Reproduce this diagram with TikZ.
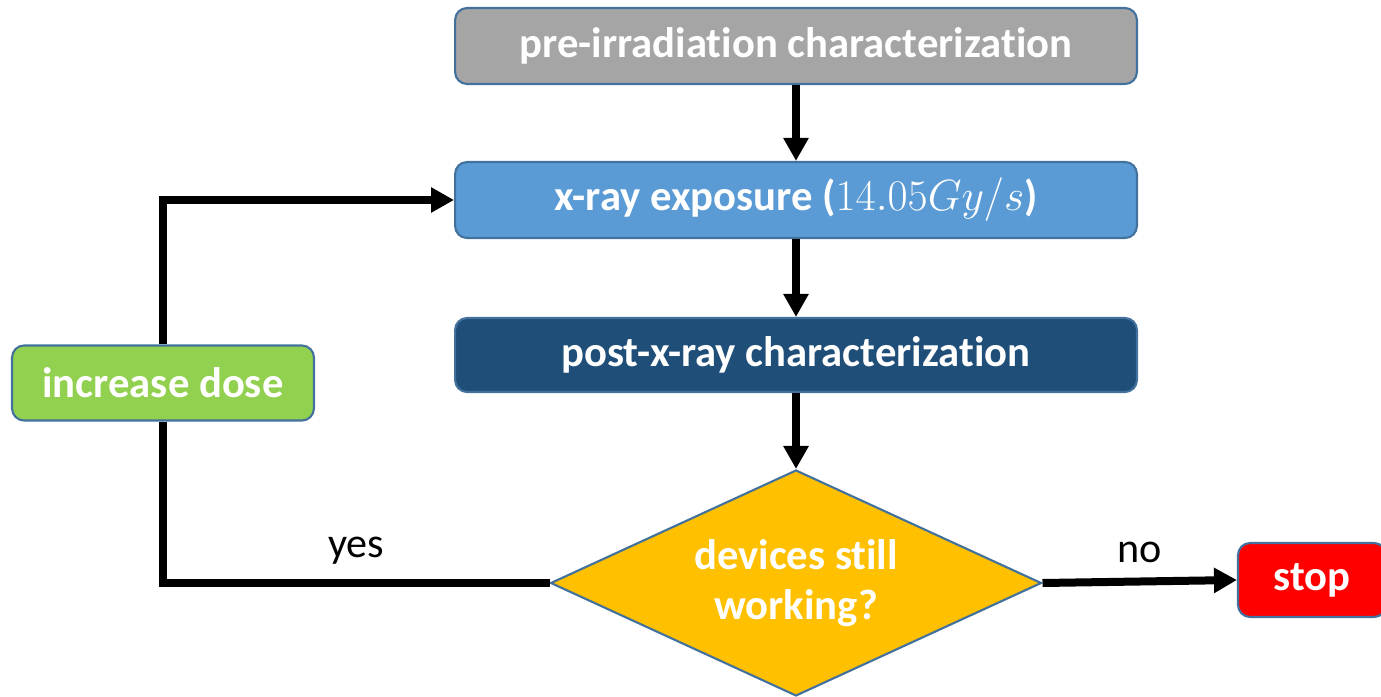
\documentclass[tikz,border=0pt]{standalone}
\usepackage{fontspec}
\setmainfont{Carlito}[Ligatures=NoCommon]
\usetikzlibrary{arrows.meta,shapes.geometric}

\definecolor{boxline}{HTML}{41719C}
\definecolor{pregray}{HTML}{A5A5A5}
\definecolor{xrayblue}{HTML}{5B9BD5}
\definecolor{postblue}{HTML}{1F4E79}
\definecolor{decideyellow}{HTML}{FFC000}
\definecolor{dosegreen}{HTML}{92D050}
\definecolor{stopred}{HTML}{FF0000}

\tikzset{
	stepbox/.style={draw=boxline, line width=1.2pt, rounded corners=0.24cm, text=white,
		font=\fontsize{24.3}{28.5}\selectfont\bfseries, minimum height=1.52cm},
	flow/.style={line width=0.16cm},
	answer/.style={above=5pt, font=\fontsize{24}{28.5}\selectfont},
}

\begin{document}
\begin{tikzpicture}[x=0.02cm, y=-0.02cm, >={Triangle[length=0.46cm,width=0.48cm]}]
	\useasboundingbox (0,0) rectangle (1381,696);
	\clip (0,0) rectangle (1381,696);

	\node [stepbox, fill=pregray, minimum width=13.64cm] (pre) at (796,46) {pre-irradiation characterization};
	\node [stepbox, fill=xrayblue, minimum width=13.64cm] (xray) at (796,200) {x-ray exposure (\(14.05Gy/s\))};
	\node [stepbox, fill=postblue, minimum width=13.64cm, minimum height=1.48cm] (post) at (796,355) {post-x-ray characterization};
	\node [diamond, aspect=2.17, draw=boxline, line width=1.2pt, fill=decideyellow, text=white, inner sep=0pt, align=center,
		font=\fontsize{24.3}{28.5}\selectfont\bfseries, minimum width=9.82cm, minimum height=4.52cm] (decide) at (796,583) {devices still\\working?};
	\node [stepbox, fill=dosegreen, minimum width=6.04cm, minimum height=1.5cm] (dose) at (163,383) {increase dose};
	\node [stepbox, fill=stopred, minimum width=2.96cm, minimum height=1.48cm] (stop) at (1312,580) {stop};

	\draw [flow, ->] (pre) to (xray);
	\draw [flow, ->] (xray) to (post);
	\draw [flow, ->] (post) to (decide);
	\draw [flow] (decide.west) -| node [pos=0.25, answer] {yes} (dose.south);
	\draw [flow, ->] (dose.north) |- (xray.west);
	\draw [flow, ->] (decide.east) to node [answer] {no} (stop.west);
\end{tikzpicture}
\end{document}
